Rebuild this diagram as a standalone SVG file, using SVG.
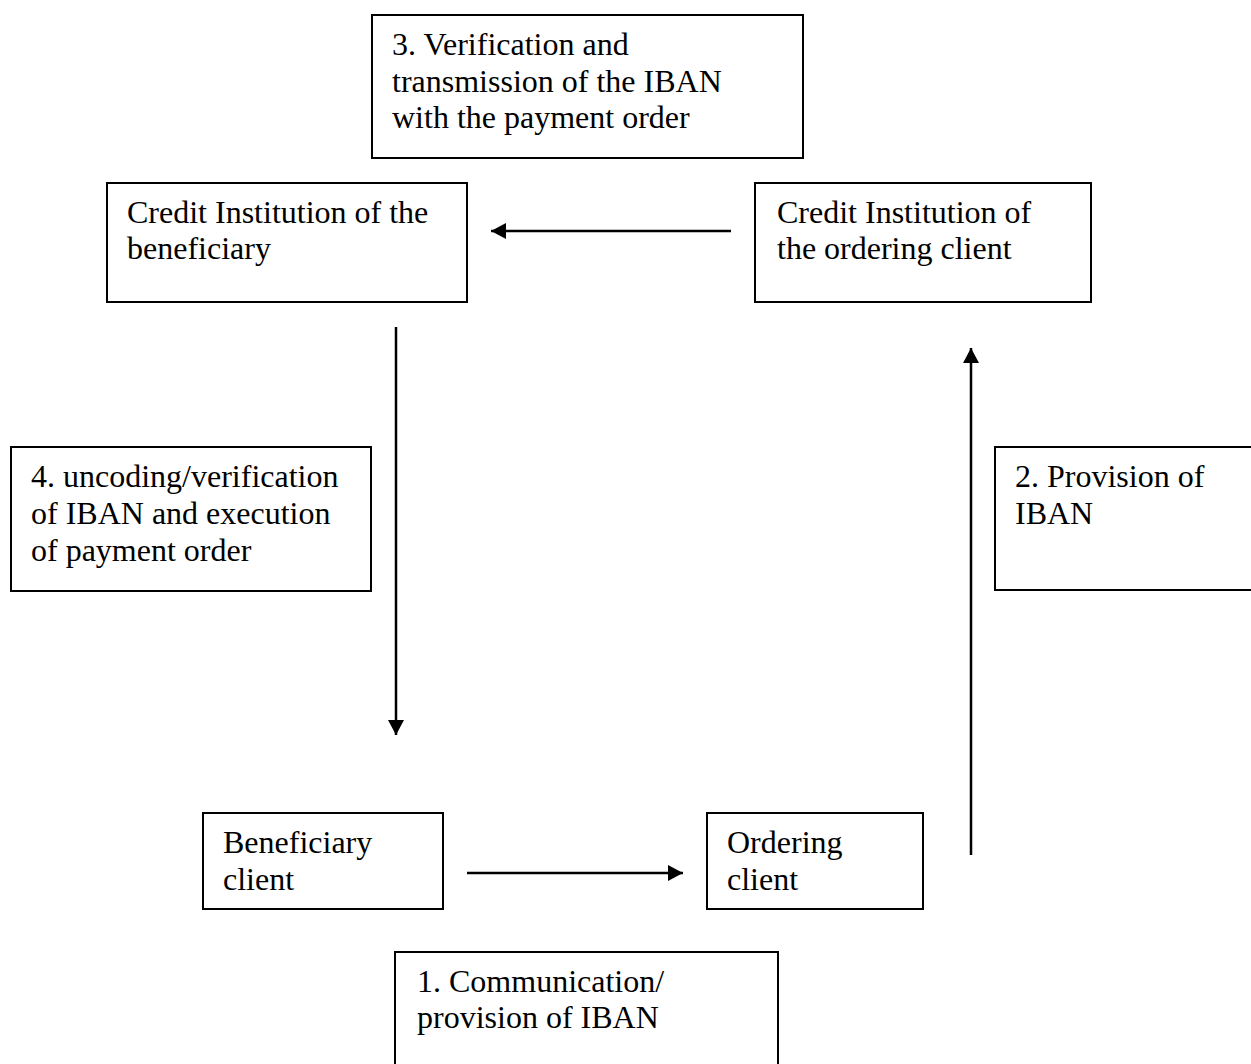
<svg xmlns="http://www.w3.org/2000/svg" width="1251" height="1064" viewBox="0 0 1251 1064">
<style>
.box{fill:#fff;stroke:#000;stroke-width:2}
.t{font-family:"Liberation Serif","Times New Roman",serif;font-size:32px;fill:#000}
.c{stroke:#000;stroke-width:2.5;fill:none}
</style>
<defs>
<marker id="ah" viewBox="0 0 15 16" refX="15" refY="8" markerWidth="15" markerHeight="16" markerUnits="userSpaceOnUse" orient="auto">
<path d="M0,0 L15,8 L0,16 Z" fill="#000"/>
</marker>
</defs>
<rect width="1251" height="1064" fill="#fff"/>
<g id="n3">
<rect class="box" x="372" y="15" width="431" height="143"/>
<text class="t" x="392" y="55">3. Verification and</text>
<text class="t" x="392" y="92">transmission of the IBAN</text>
<text class="t" x="392" y="128">with the payment order</text>
</g>
<g id="ci_ben">
<rect class="box" x="107" y="183" width="360" height="119"/>
<text class="t" x="127" y="223">Credit Institution of the</text>
<text class="t" x="127" y="259">beneficiary</text>
</g>
<g id="ci_ord">
<rect class="box" x="755" y="183" width="336" height="119"/>
<text class="t" x="777" y="223">Credit Institution of</text>
<text class="t" x="777" y="259">the ordering client</text>
</g>
<g id="n4">
<rect class="box" x="11" y="447" width="360" height="144"/>
<text class="t" x="31" y="487">4. uncoding/verification</text>
<text class="t" x="31" y="524">of IBAN and execution</text>
<text class="t" x="31" y="561">of payment order</text>
</g>
<g id="n2">
<rect class="box" x="995" y="447" width="270" height="143"/>
<text class="t" x="1015" y="487">2. Provision of</text>
<text class="t" x="1015" y="524">IBAN</text>
</g>
<g id="ben_client">
<rect class="box" x="203" y="813" width="240" height="96"/>
<text class="t" x="223" y="853">Beneficiary</text>
<text class="t" x="223" y="890">client</text>
</g>
<g id="ord_client">
<rect class="box" x="707" y="813" width="216" height="96"/>
<text class="t" x="727" y="853">Ordering</text>
<text class="t" x="727" y="890">client</text>
</g>
<g id="n1">
<rect class="box" x="395" y="952" width="383" height="130"/>
<text class="t" x="417" y="992">1. Communication/</text>
<text class="t" x="417" y="1028">provision of IBAN</text>
</g>
<g id="connectors">
<line class="c" x1="731" y1="231" x2="491" y2="231" marker-end="url(#ah)"/>
<line class="c" x1="396" y1="327" x2="396" y2="735" marker-end="url(#ah)"/>
<line class="c" x1="971" y1="855" x2="971" y2="348" marker-end="url(#ah)"/>
<line class="c" x1="467" y1="873" x2="683" y2="873" marker-end="url(#ah)"/>
</g>
</svg>
